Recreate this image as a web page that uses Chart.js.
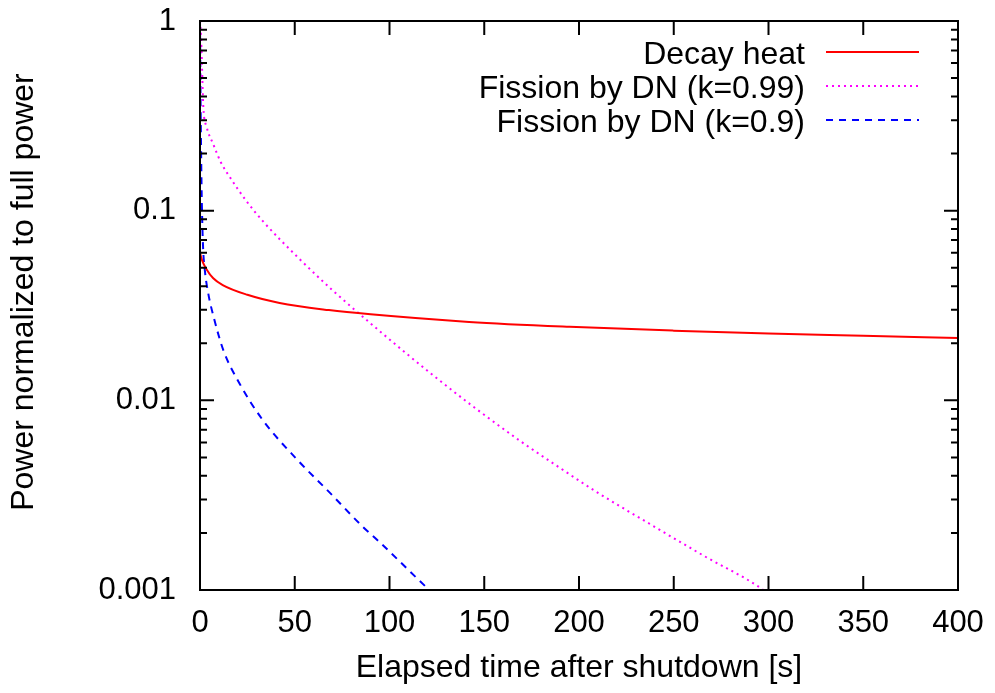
<!DOCTYPE html>
<html>
<head>
<meta charset="utf-8">
<script src="https://cdn.jsdelivr.net/npm/chart.js@4.4.0/dist/chart.umd.min.js"></script>
<style>
  html, body { margin: 0; padding: 0; background: #fff; }
</style>
</head>
<body>
<canvas id="decayChart" width="995" height="693"></canvas>
<script>
// values
var decayTime = [0, 1, 3.5, 7, 12, 25, 42, 68, 90, 142, 195, 250, 300, 350, 400];
var decayHeat = [0.060, 0.055, 0.049, 0.044, 0.0405, 0.036, 0.0326, 0.0299, 0.0284, 0.0259, 0.0244, 0.0233, 0.0225, 0.0219, 0.0213];

var dn99Time = [0, 0.5, 1, 1.75, 3.5, 7, 11, 15.8, 24.6, 33.4, 51.9, 70, 89.7, 122, 144, 169, 190, 209, 239, 265.6, 295.5, 300];
var dn99Power = [1, 0.85, 0.6, 0.353, 0.277, 0.224, 0.18, 0.150, 0.112, 0.0875, 0.0564, 0.038, 0.0256, 0.0138, 0.0093, 0.0061, 0.0044, 0.0033, 0.00218, 0.00152, 0.00103, 0.00095];

var dn90Time = [0, 0.2, 0.4, 0.9, 1.6, 2.6, 4.5, 7, 12.3, 21, 33, 51, 68.6, 86, 95, 121, 125];
var dn90Power = [1, 0.5, 0.3, 0.12, 0.065, 0.048, 0.036, 0.028, 0.0184, 0.0122, 0.0079, 0.0049, 0.00325, 0.00215, 0.00178, 0.0010, 0.00092];

var seriesLabels = ["Decay heat", "Fission by DN (k=0.99)", "Fission by DN (k=0.9)"];
var xTicks = [0, 50, 100, 150, 200, 250, 300, 350, 400];
var yTicks = [0.001, 0.01, 0.1, 1];
var yTickLabels = ["0.001", "0.01", "0.1", "1"];
var yTitle = "Power normalized to full power";

var FONT = "'Liberation Sans', Arial, sans-serif";

function pts(xs, ys) {
  return xs.map(function (x, i) { return { x: x, y: ys[i] }; });
}

// border box and inward tick marks, like gnuplot
var framePlugin = {
  id: 'frame',
  afterDatasetsDraw: function (chart) {
    var ctx = chart.ctx, a = chart.chartArea;
    var xs = chart.scales.x, ys = chart.scales.y;
    ctx.save();
    ctx.strokeStyle = '#000';
    ctx.lineWidth = 2;
    ctx.beginPath();
    xTicks.forEach(function (v) {
      var px = xs.getPixelForValue(v);
      ctx.moveTo(px, a.bottom); ctx.lineTo(px, a.bottom - 14);
      ctx.moveTo(px, a.top); ctx.lineTo(px, a.top + 14);
    });
    yTicks.forEach(function (d) {
      var py = ys.getPixelForValue(d);
      ctx.moveTo(a.left, py); ctx.lineTo(a.left + 14, py);
      ctx.moveTo(a.right, py); ctx.lineTo(a.right - 14, py);
      if (d < 1) {
        for (var m = 2; m <= 9; m++) {
          var pm = ys.getPixelForValue(d * m);
          ctx.moveTo(a.left, pm); ctx.lineTo(a.left + 7, pm);
          ctx.moveTo(a.right, pm); ctx.lineTo(a.right - 7, pm);
        }
      }
    });
    ctx.stroke();
    ctx.strokeRect(a.left, a.top, a.right - a.left, a.bottom - a.top);

    // y axis title, rotated
    ctx.translate(24, 292);
    ctx.rotate(-Math.PI / 2);
    ctx.font = '32px ' + FONT;
    ctx.fillStyle = '#000';
    ctx.textAlign = 'center';
    ctx.textBaseline = 'middle';
    ctx.fillText(yTitle, 0, 0);
    ctx.restore();
  }
};

// key in the top right corner: text on the left, line sample on the right
var keyPlugin = {
  id: 'key',
  afterDraw: function (chart) {
    var ctx = chart.ctx;
    var rows = [52, 86, 120];
    ctx.save();
    ctx.font = '32px ' + FONT;
    ctx.textAlign = 'right';
    ctx.textBaseline = 'alphabetic';
    chart.data.datasets.forEach(function (ds, i) {
      ctx.fillStyle = '#000';
      ctx.fillText(ds.label, 805, rows[i] + 11.5);
      ctx.strokeStyle = ds.borderColor;
      ctx.lineWidth = ds.borderWidth;
      ctx.setLineDash(ds.borderDash || []);
      ctx.beginPath();
      ctx.moveTo(826, rows[i]);
      ctx.lineTo(919, rows[i]);
      ctx.stroke();
    });
    ctx.restore();
  }
};

new Chart(document.getElementById('decayChart'), {
  type: 'line',
  data: {
    datasets: [
      {
        label: seriesLabels[0],
        data: pts(decayTime, decayHeat),
        borderColor: '#ff0000',
        borderWidth: 2,
        pointRadius: 0,
        cubicInterpolationMode: 'monotone'
      },
      {
        label: seriesLabels[1],
        data: pts(dn99Time, dn99Power),
        borderColor: '#ff00ff',
        borderWidth: 2,
        borderDash: [2, 4],
        pointRadius: 0,
        cubicInterpolationMode: 'monotone'
      },
      {
        label: seriesLabels[2],
        data: pts(dn90Time, dn90Power),
        borderColor: '#0000ff',
        borderWidth: 2,
        borderDash: [7, 6],
        pointRadius: 0,
        cubicInterpolationMode: 'monotone'
      }
    ]
  },
  options: {
    responsive: false,
    animation: false,
    devicePixelRatio: 1,
    layout: { padding: { top: 21, right: 37, left: 0, bottom: 0 } },
    plugins: {
      legend: { display: false },
      tooltip: { enabled: false }
    },
    scales: {
      x: {
        type: 'linear',
        min: 0,
        max: 400,
        afterBuildTicks: function (scale) {
          scale.ticks = xTicks.map(function (v) { return { value: v }; });
        },
        afterFit: function (scale) {
          scale.height = 103;
          scale.paddingLeft = 0;
          scale.paddingRight = 0;
        },
        grid: { display: false, drawTicks: false },
        border: { display: false },
        ticks: {
          autoSkip: false,
          maxRotation: 0,
          padding: 15,
          color: '#000',
          font: { family: FONT, size: 31 }
        },
        title: {
          display: true,
          text: 'Elapsed time after shutdown [s]',
          color: '#000',
          font: { family: FONT, size: 32 },
          padding: { top: 0, bottom: 6 }
        }
      },
      y: {
        type: 'logarithmic',
        min: 0.001,
        max: 1,
        afterBuildTicks: function (scale) {
          scale.ticks = yTicks.map(function (v) { return { value: v }; });
        },
        afterFit: function (scale) {
          scale.width = 200;
          scale.paddingTop = 0;
          scale.paddingBottom = 0;
        },
        grid: { display: false, drawTicks: false },
        border: { display: false },
        ticks: {
          autoSkip: false,
          padding: 24,
          color: '#000',
          font: { family: FONT, size: 31 },
          callback: function (v) {
            var i = yTicks.indexOf(v);
            return i >= 0 ? yTickLabels[i] : '';
          }
        }
      }
    }
  },
  plugins: [framePlugin, keyPlugin]
});
</script>
</body>
</html>
